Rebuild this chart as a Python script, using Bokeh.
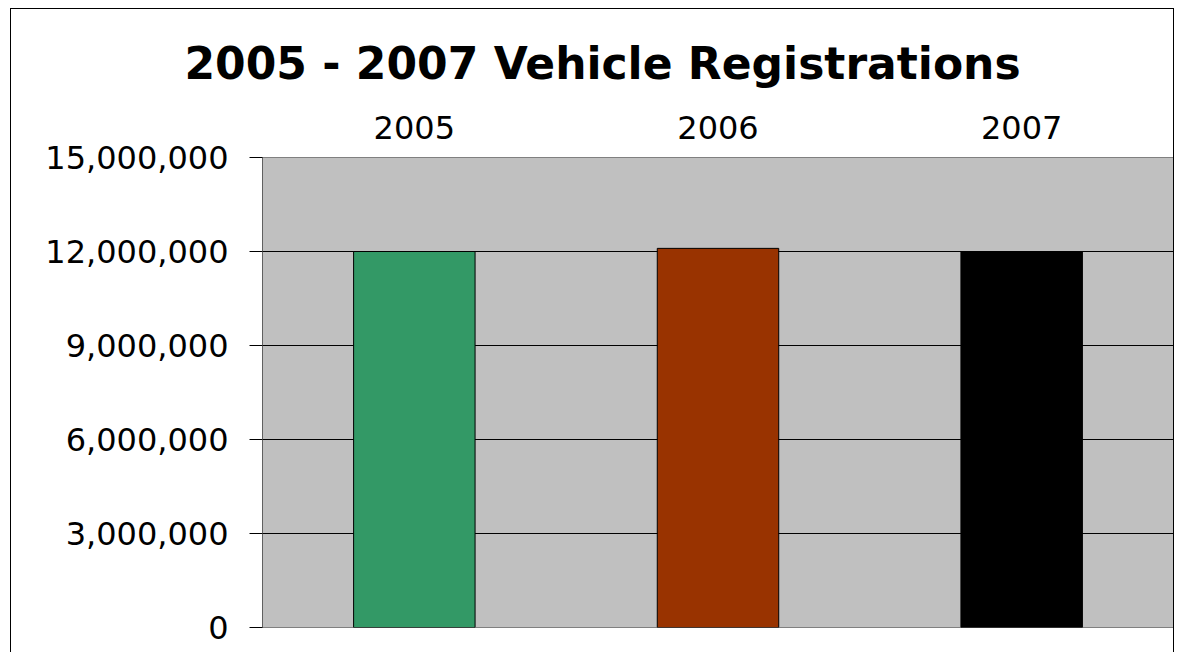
from bokeh.plotting import figure
from bokeh.models import (ColumnDataSource, FixedTicker, NumeralTickFormatter,
                          CategoricalAxis, Title)
from bokeh.embed import file_html
from bokeh.resources import INLINE

years = ["2005", "2006", "2007"]
registrations = [12_000_000, 12_100_000, 12_000_000]
colors = ["#339966", "#993300", "#000000"]
y_ticks = [0, 3_000_000, 6_000_000, 9_000_000, 12_000_000, 15_000_000]
title_text = "2005 - 2007 Vehicle Registrations"

FONT = "DejaVu Sans"

src = ColumnDataSource(dict(year=years, value=registrations, color=colors))

p = figure(x_range=years, y_range=(0, 15_000_000), width=1164, height=644,
           output_backend="svg", toolbar_location=None,
           x_axis_location=None,
           min_border_left=251, min_border_top=148, min_border_right=2,
           min_border_bottom=26)
p.x_range.range_padding = 0

p.vbar(x="year", top="value", width=0.4, color="color", line_color="black",
       line_width=1, source=src)

p.background_fill_color = "#C0C0C0"
p.border_fill_color = "white"
p.outline_line_color = "#808080"
p.outline_line_width = 1

p.xgrid.grid_line_color = None
p.ygrid.grid_line_color = "#000000"
p.ygrid.grid_line_width = 1
p.ygrid.ticker = FixedTicker(ticks=y_ticks)

ya = p.yaxis[0]
ya.ticker = FixedTicker(ticks=y_ticks)
ya.formatter = NumeralTickFormatter(format="0,0")
ya.major_label_text_font = FONT
ya.major_label_text_font_size = "32px"
ya.major_label_text_color = "black"
ya.major_tick_out = 13
ya.major_tick_in = 0
ya.minor_tick_out = 0
ya.minor_tick_in = 0
ya.major_tick_line_color = "black"
ya.axis_line_color = "#606060"
ya.major_label_standoff = 21

top_axis = CategoricalAxis()
top_axis.axis_line_color = None
top_axis.major_tick_line_color = None
top_axis.minor_tick_line_color = None
top_axis.major_label_text_font = FONT
top_axis.major_label_text_font_size = "32px"
top_axis.major_label_text_color = "black"
top_axis.major_label_standoff = 13
p.add_layout(top_axis, "above")

p.title = Title(text=title_text, align="left", offset=-78,
                text_font=FONT, text_font_size="44px", text_font_style="bold",
                text_color="black", standoff=48)

p.styles = {"margin-left": "10px", "margin-top": "8px",
            "border-top": "1px solid black", "border-left": "1px solid black",
            "border-right": "1px solid black"}

open("out.html", "w").write(file_html(p, INLINE))
